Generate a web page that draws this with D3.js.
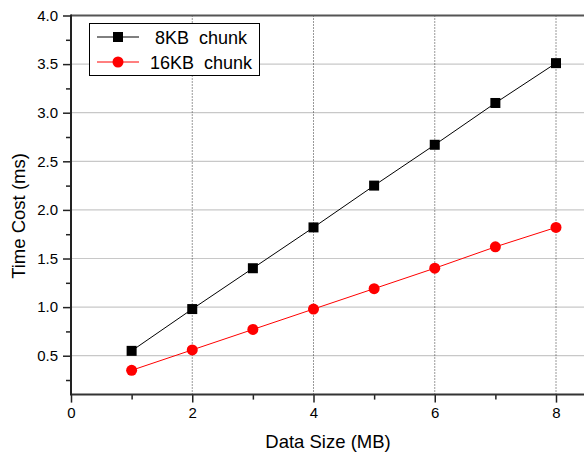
<!DOCTYPE html>
<html>
<head>
<meta charset="utf-8">
<script src="https://cdn.jsdelivr.net/npm/d3@7"></script>
<style>
  html, body { margin: 0; padding: 0; background: #fff; }
  svg { display: block; font-family: "Liberation Sans", Arial, sans-serif; }
</style>
</head>
<body>
<svg id="chart" width="584" height="454"></svg>
<script>
// Data size in MB
const sizes = [1, 2, 3, 4, 5, 6, 7, 8];
// Time cost in ms for each chunk size
const chunk8KB = [0.55, 0.98, 1.40, 1.82, 2.25, 2.67, 3.10, 3.51];
const chunk16KB = [0.35, 0.56, 0.77, 0.98, 1.19, 1.40, 1.62, 1.82];
const seriesNames = ["8KB  chunk", "16KB  chunk"];
const xTicks = [0, 2, 4, 6, 8];
const xMinorTicks = [1, 3, 5, 7];
const yTicks = [0.5, 1.0, 1.5, 2.0, 2.5, 3.0, 3.5, 4.0];
const yMinorTicks = [0.25, 0.75, 1.25, 1.75, 2.25, 2.75, 3.25, 3.75];

const svg = d3.select("#chart");
const plotLeft = 71, plotTop = 15.5, plotBottom = 394.6;

const x = d3.scaleLinear().domain([0, 8.5]).range([plotLeft, plotLeft + 60.625 * 8.5]);
const y = d3.scaleLinear().domain([0.1, 4.0]).range([plotBottom, plotTop]);
const plotRight = x(8.5);

// horizontal grid (solid gray)
svg.append("g").selectAll("line").data(yTicks.filter(d => d < 4)).join("line")
  .attr("x1", plotLeft).attr("x2", plotRight)
  .attr("y1", d => y(d)).attr("y2", d => y(d))
  .attr("stroke", "#c8c8c8").attr("stroke-width", 1.2);

// vertical grid (dotted)
svg.append("g").selectAll("line").data(xTicks.filter(d => d > 0)).join("line")
  .attr("x1", d => x(d)).attr("x2", d => x(d))
  .attr("y1", plotTop).attr("y2", plotBottom)
  .attr("stroke", "#333").attr("stroke-width", 1)
  .attr("stroke-dasharray", "1,2");

// top frame line
svg.append("line").attr("x1", plotLeft).attr("x2", plotRight)
  .attr("y1", plotTop).attr("y2", plotTop)
  .attr("stroke", "#555").attr("stroke-width", 2);

// axes
const xAxis = d3.axisBottom(x).tickValues(xTicks).tickSize(8).tickPadding(5).tickFormat(d3.format("d"));
const xMinor = d3.axisBottom(x).tickValues(xMinorTicks).tickSize(5).tickFormat("");
const yAxis = d3.axisLeft(y).tickValues(yTicks).tickSize(8).tickPadding(5).tickFormat(d3.format(".1f"));
const yMinor = d3.axisLeft(y).tickValues(yMinorTicks).tickSize(5).tickFormat("");

function styleAxis(g) {
  g.select(".domain").remove();
  g.selectAll(".tick line").attr("stroke", "#222").attr("stroke-width", 1.5);
  g.selectAll(".tick text").attr("fill", "#000").style("font-size", "15px")
    .style("font-family", "'Liberation Sans', Arial, sans-serif");
}

svg.append("g").attr("transform", `translate(0,${plotBottom})`).call(xMinor).call(styleAxis);
svg.append("g").attr("transform", `translate(0,${plotBottom})`).call(xAxis).call(styleAxis);
svg.append("g").attr("transform", `translate(${plotLeft},0)`).call(yMinor).call(styleAxis);
svg.append("g").attr("transform", `translate(${plotLeft},0)`).call(yAxis).call(styleAxis);

// axis lines
svg.append("line").attr("x1", plotLeft).attr("x2", plotRight).attr("y1", plotBottom).attr("y2", plotBottom)
  .attr("stroke", "#333").attr("stroke-width", 2);
svg.append("line").attr("x1", plotLeft).attr("x2", plotLeft).attr("y1", plotTop - 1).attr("y2", plotBottom + 1)
  .attr("stroke", "#222").attr("stroke-width", 2);

// axis titles
svg.append("text").attr("x", 328).attr("y", 448).attr("text-anchor", "middle")
  .style("font-size", "18.5px").text("Data Size (MB)");
svg.append("text").attr("transform", `translate(25,${216}) rotate(-90)`)
  .attr("text-anchor", "middle").style("font-size", "18.5px").text("Time Cost (ms)");

// series
const line = d3.line().x((d, i) => x(sizes[i])).y(d => y(d));
svg.append("path").datum(chunk8KB).attr("d", line).attr("fill", "none")
  .attr("stroke", "#000").attr("stroke-width", 1);
svg.append("path").datum(chunk16KB).attr("d", line).attr("fill", "none")
  .attr("stroke", "#ff0000").attr("stroke-width", 1);

svg.append("g").selectAll("rect").data(chunk8KB).join("rect")
  .attr("x", (d, i) => x(sizes[i]) - 5).attr("y", d => y(d) - 5)
  .attr("width", 10).attr("height", 10).attr("fill", "#000");
svg.append("g").selectAll("circle").data(chunk16KB).join("circle")
  .attr("cx", (d, i) => x(sizes[i])).attr("cy", d => y(d))
  .attr("r", 5.5).attr("fill", "#ff0000");

// legend
const lg = svg.append("g");
lg.append("rect").attr("x", 89.5).attr("y", 23.5).attr("width", 170).attr("height", 52)
  .attr("fill", "#fff").attr("stroke", "#000").attr("stroke-width", 1);
const rowY = [37, 62];
const textX = [155, 150];
lg.append("line").attr("x1", 97).attr("x2", 139).attr("y1", rowY[0]).attr("y2", rowY[0])
  .attr("stroke", "#000").attr("stroke-width", 1);
lg.append("rect").attr("x", 113).attr("y", rowY[0] - 5).attr("width", 10).attr("height", 10).attr("fill", "#000");
lg.append("line").attr("x1", 97).attr("x2", 139).attr("y1", rowY[1]).attr("y2", rowY[1])
  .attr("stroke", "#ff0000").attr("stroke-width", 1);
lg.append("circle").attr("cx", 118).attr("cy", rowY[1]).attr("r", 5.5).attr("fill", "#ff0000");
seriesNames.forEach((name, i) => {
  lg.append("text").attr("x", textX[i]).attr("y", rowY[i] + 6.5)
    .style("font-size", "18px").style("white-space", "pre").text(name);
});
</script>
</body>
</html>
